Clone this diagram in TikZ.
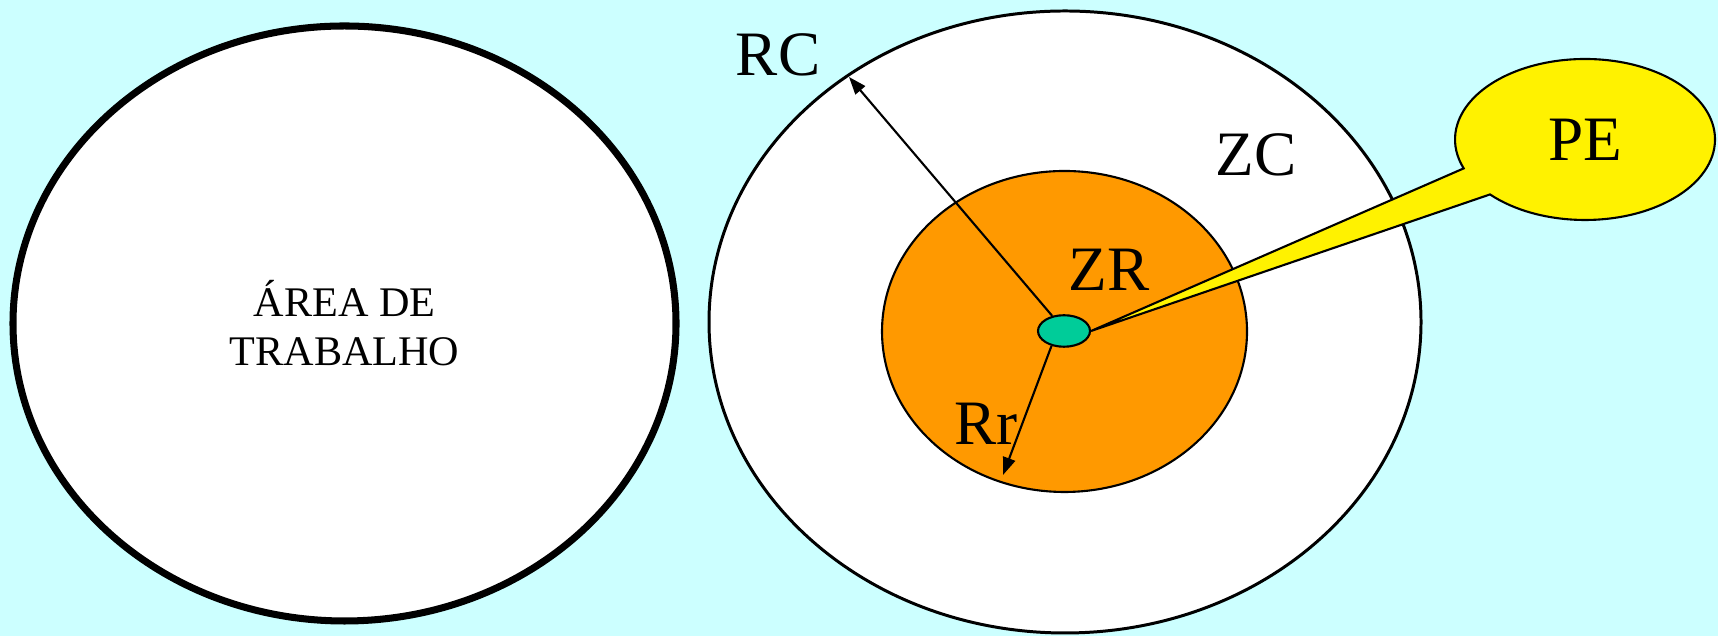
\documentclass[tikz,border=0pt]{standalone}
\usepackage{fontspec}
\setmainfont{Liberation Serif}
\usepackage{xcolor}
\definecolor{fundo}{HTML}{CCFFFF}
\definecolor{laranja}{HTML}{FF9900}
\definecolor{verdeagua}{HTML}{00CC99}
\usepackage{tikz}
\usetikzlibrary{
    shapes.geometric,
    shapes.callouts,
    arrows.meta,
    positioning
}

\begin{document}
\begin{tikzpicture}[
    every text node part/.style={align=center},
    zona/.style={ellipse, draw=black, inner sep=0pt},
    rotulo/.style={inner sep=0pt, font=\fontsize{18}{20}\selectfont},
    raio/.style={draw=black, line width=0.6pt, -{Triangle[length=5pt, width=3.6pt]}}
]

% Background
\fill[fundo] (0,0) rectangle (17.18,6.36);
\useasboundingbox (0,0) rectangle (17.18,6.36);

% Work area
\node[zona, line width=2pt, fill=white, minimum width=6.63cm, minimum height=5.95cm,
      font=\fontsize{12}{14}\selectfont] (area) at (3.445,3.125) {ÁREA DE\\TRABALHO};

% ZC and ZR zones
\node[zona, line width=0.85pt, fill=white, minimum width=7.12cm, minimum height=6.22cm] (zc) at (10.65,3.14) {};
\node[zona, line width=0.6pt, fill=laranja, minimum width=3.65cm, minimum height=3.21cm] (zr) at (10.645,3.045) {};

% Centre point
\node[zona, line width=0.6pt, fill=verdeagua, minimum width=0.52cm, minimum height=0.315cm] (ponto) at (10.64,3.05) {};

% Radii
\coordinate (rcfim) at (8.49,5.59);
\coordinate (rrfim) at (10.03,1.61);
\draw[raio] (ponto.128) -- (rcfim);
\draw[raio] (ponto.230) -- (rrfim);

% PE callout
\node[ellipse callout, draw=black, line width=0.6pt, fill=yellow, inner sep=0pt,
      minimum width=2.6cm, minimum height=1.61cm, callout pointer arc=22,
      callout absolute pointer={(ponto.east)}, rotulo] (pe) at (15.85,4.965) {PE};

% Labels
\node[rotulo] (rc) at (7.78,5.81) {RC};
\node[rotulo] (rr) at (9.86,2.12) {Rr};
\node[rotulo] (zrtxt) at (11.09,3.66) {ZR};
\node[rotulo] (zctxt) at (12.56,4.81) {ZC};

\end{tikzpicture}
\end{document}
